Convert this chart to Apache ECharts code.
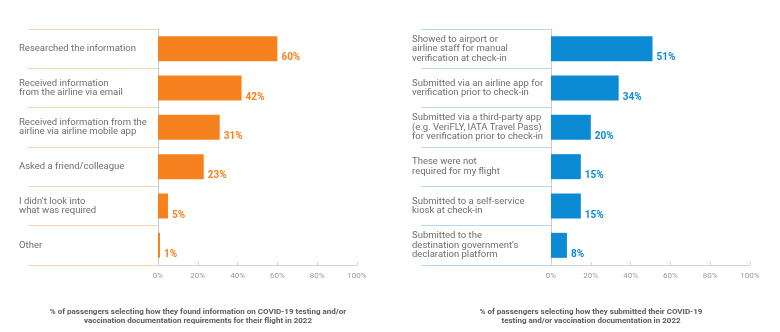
<!DOCTYPE html>
<html>
<head>
<meta charset="utf-8">
<script src="https://cdn.jsdelivr.net/npm/echarts@6/dist/echarts.min.js"></script>
<style>
  html, body { margin: 0; padding: 0; background: #fff; }
  #chart { width: 780px; height: 332px; }
</style>
</head>
<body>
<div id="chart"></div>
<script>
// How passengers found information on testing / vaccination requirements
const infoCategories = [
  'Researched the information',
  'Received information\nfrom the airline via email',
  'Received information from the\nairline via airline mobile app',
  'Asked a friend/colleague',
  'I didn\u2019t look into\nwhat was required',
  'Other'
];
const infoValues = [60, 42, 31, 23, 5, 1];

// How passengers submitted their documentation
const submitCategories = [
  'Showed to airport or\nairline staff for manual\nverification at check-in',
  'Submitted via an airline app for\nverification prior to check-in',
  'Submitted via a third-party app\n(e.g. VeriFLY, IATA Travel Pass)\nfor verification prior to check-in',
  'These were not\nrequired for my flight',
  'Submitted to a self-service\nkiosk at check-in',
  'Submitted to the\ndestination government\u2019s\ndeclaration platform'
];
const submitValues = [51, 34, 20, 15, 15, 8];

const pctTicks = [0, 20, 40, 60, 80, 100];

const titleLeft = '% of passengers selecting how they found information on COVID-19 testing and/or\nvaccination documentation requirements for their flight in 2022';
const titleRight = '% of passengers selecting how they submitted their COVID-19\ntesting and/or vaccination documentation in 2022';

const ORANGE = '#f5821f';
const BLUE = '#0b8bd4';
const FONT = 'Roboto';

const chart = echarts.init(document.getElementById('chart'), null, { renderer: 'canvas' });

function grid(left) {
  return { left: left, width: 199, top: 29, height: 236, containLabel: false };
}

function valueAxis(gridIndex) {
  return {
    type: 'value', gridIndex: gridIndex, min: pctTicks[0], max: pctTicks[pctTicks.length - 1], interval: 20,
    axisLine: { show: true, lineStyle: { color: '#d0d4d8', width: 1 } },
    axisTick: { show: true, inside: true, length: 3, lineStyle: { color: '#d0d4d8' } },
    splitLine: { show: false },
    axisLabel: { color: '#9a9a9a', fontSize: 8, fontFamily: FONT, margin: 7, formatter: v => v + '%' }
  };
}

// Category axis carrying the labels and the row separators (ticks at the row boundaries)
function labelAxis(gridIndex, cats, sepColor) {
  return {
    type: 'category', gridIndex: gridIndex, data: cats, inverse: true, offset: 9,
    axisLine: { show: false },
    axisTick: { show: true, inside: false, length: 130, alignWithLabel: false, lineStyle: { color: sepColor, width: 1 } },
    axisLabel: {
      color: '#6e6e6e', fontSize: 9.5, fontFamily: FONT, lineHeight: 9.5,
      align: 'left', margin: 130, interval: 0
    }
  };
}

// Plain vertical baseline of the bars
function baseAxis(gridIndex, cats) {
  return {
    type: 'category', gridIndex: gridIndex, data: cats, inverse: true, position: 'left',
    axisLine: { show: true, lineStyle: { color: '#c9cdd2', width: 1 } },
    axisTick: { show: false }, axisLabel: { show: false }
  };
}

function barSeries(xi, yi, values, color) {
  return {
    type: 'bar', xAxisIndex: xi, yAxisIndex: yi, data: values, barWidth: 25,
    itemStyle: { color: color },
    label: {
      show: true, position: 'right', distance: 4, offset: [0, 9],
      color: color, fontSize: 10, fontWeight: 'bold', fontFamily: FONT,
      formatter: p => p.value + '%'
    }
  };
}

chart.setOption({
  animation: false,
  backgroundColor: '#ffffff',
  title: [
    { text: titleLeft, left: 193, top: 302, textAlign: 'center',
      textStyle: { fontSize: 8, fontWeight: 'bold', color: '#5a5a5a', fontFamily: FONT, lineHeight: 9.5 } },
    { text: titleRight, left: 586, top: 302, textAlign: 'center',
      textStyle: { fontSize: 8, fontWeight: 'bold', color: '#5a5a5a', fontFamily: FONT, lineHeight: 9.5 } }
  ],
  grid: [grid(158), grid(551)],
  xAxis: [valueAxis(0), valueAxis(1)],
  yAxis: [
    labelAxis(0, infoCategories, '#f4d3b6'),
    baseAxis(0, infoCategories),
    labelAxis(1, submitCategories, '#b6d7ee'),
    baseAxis(1, submitCategories)
  ],
  series: [
    barSeries(0, 1, infoValues, ORANGE),
    barSeries(1, 3, submitValues, BLUE)
  ]
});
</script>
</body>
</html>
